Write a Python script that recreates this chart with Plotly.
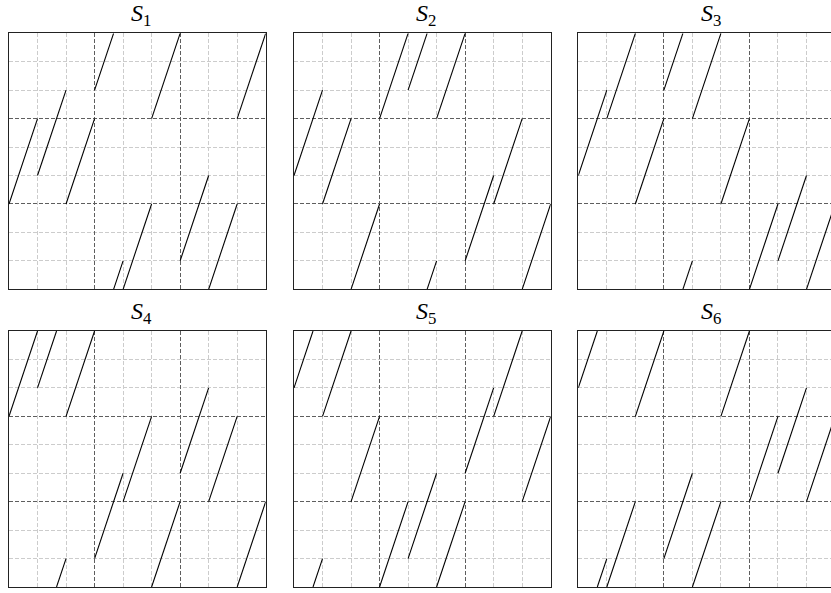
import plotly.graph_objects as go

# Height (in grid cells, 0..9) where each column's segment starts, per panel.
# Each segment rises 3 cells over 1 cell and wraps around the top edge.
S1_STARTS = [3, 4, 3, 7, 0, 6, 1, 0, 6]
S2_STARTS = [4, 3, 0, 6, 7, 6, 1, 3, 0]
S3_STARTS = [4, 6, 3, 7, 6, 3, 0, 1, 0]
S4_STARTS = [6, 7, 6, 1, 3, 0, 4, 3, 0]
S5_STARTS = [7, 6, 3, 0, 1, 0, 4, 6, 3]
S6_STARTS = [7, 0, 6, 1, 0, 6, 3, 4, 3]

PANEL_NAMES = ["1", "2", "3", "4", "5", "6"]
PANEL_STARTS = [S1_STARTS, S2_STARTS, S3_STARTS, S4_STARTS, S5_STARTS, S6_STARTS]

SIZE = 9
SLOPE = 3
MAJOR_TICKS = [3, 6]
MINOR_TICKS = [1, 2, 4, 5, 7, 8]

W, H = 831, 593
LIGHT = "#cccccc"
DARK = "#5e5e5e"

# panel boxes in pixels (left, right, top, bottom); third column runs off the page
COLS = [(9, 265.7), (294, 550.7), (578.3, 835.0)]
ROWS = [(33.3, 289.3), (331, 587)]


def segments(starts):
    xs, ys = [], []
    for col, y0 in enumerate(starts):
        y1 = y0 + SLOPE
        if y1 <= SIZE:
            xs += [col, col + 1, None]
            ys += [y0, y1, None]
        else:
            xw = col + (SIZE - y0) / SLOPE
            xs += [col, xw, None, xw, col + 1, None]
            ys += [y0, SIZE, None, 0, y1 - SIZE, None]
    return xs, ys


fig = go.Figure()
annotations = []

for i, (name, starts) in enumerate(zip(PANEL_NAMES, PANEL_STARTS)):
    r, c = divmod(i, 3)
    left, right = COLS[c]
    top, bottom = ROWS[r]
    width_px = right - left
    visible_right = min(right, W)
    x_max = SIZE * (visible_right - left) / width_px
    xd = [left / W, visible_right / W]
    yd = [(H - bottom) / H, (H - top) / H]

    n = "" if i == 0 else str(i + 1)
    xs, ys = segments(starts)
    fig.add_trace(go.Scatter(
        x=xs, y=ys, mode="lines",
        line=dict(color="black", width=1.1),
        xaxis="x" + n, yaxis="y" + n,
        showlegend=False, hoverinfo="skip",
    ))

    axis_common = dict(
        showticklabels=False, ticks="", zeroline=False,
        tickvals=MAJOR_TICKS, showgrid=True, gridcolor=DARK, griddash="4px,2px", gridwidth=1,
        minor=dict(tickvals=MINOR_TICKS, showgrid=True, gridcolor=LIGHT, griddash="4px,2px", gridwidth=1, ticks=""),
        showline=True, linecolor="#222222", linewidth=1.2,
        fixedrange=True,
    )
    fig.update_layout(**{
        "xaxis" + n: dict(axis_common, domain=xd, range=[0, x_max], mirror=True,
                          anchor="y" + n),
        "yaxis" + n: dict(axis_common, domain=yd, range=[0, SIZE], mirror=(c < 2),
                          anchor="x" + n),
    })

    annotations.append(dict(
        text=f"<i>S</i><sub>{name}</sub>",
        x=(left + right) / 2 / W, y=(H - top) / H,
        xref="paper", yref="paper", xanchor="center", yanchor="bottom",
        xshift=4, yshift=2, borderpad=0, showarrow=False,
        font=dict(family="Liberation Serif, serif", size=24, color="black"),
    ))

fig.update_layout(
    width=W, height=H, autosize=False,
    margin=dict(l=0, r=0, t=0, b=0),
    paper_bgcolor="white", plot_bgcolor="white",
    annotations=annotations,
)

# drop the browser's default page margin so the figure sits at the corner
fig.write_html(
    "out.html",
    config={"displayModeBar": False},
    post_script="document.body.style.margin='0';document.body.style.overflow='hidden';",
)
